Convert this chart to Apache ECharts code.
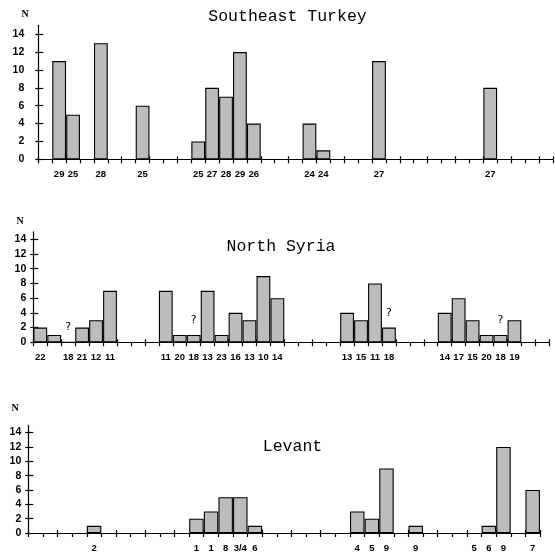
<!DOCTYPE html>
<html><head><meta charset="utf-8">
<script src="https://cdn.jsdelivr.net/npm/echarts@6/dist/echarts.min.js"></script>
<style>html,body{margin:0;padding:0;background:#fff}#c{width:555px;height:553px}</style>
</head><body><div id="c"></div><script>
// y tick labels shared by all panels
const yTicks = [0, 2, 4, 6, 8, 10, 12, 14];

// Panel 1: Southeast Turkey (37 category slots)
const seLabels = ['', '29', '25', '', '28', '', '', '25', '', '', '', '25', '27', '28', '29', '26', '', '', '', '24', '24', '', '', '', '27', '', '', '', '', '', '', '', '27', '', '', '', ''];
const seValues = [null, 11, 5, null, 13, null, null, 6, null, null, null, 2, 8, 7, 12, 4, null, null, null, 4, 1, null, null, null, 11, null, null, null, null, null, null, null, 8, null, null, null, null];

// Panel 2: North Syria (37 category slots)
const nsLabels = ['22', '', '18', '21', '12', '11', '', '', '', '11', '20', '18', '13', '23', '16', '13', '10', '14', '', '', '', '', '13', '15', '11', '18', '', '', '', '14', '17', '15', '20', '18', '19', '', ''];
const nsValues = [2, 1, 0, 2, 3, 7, null, null, null, 7, 1, 1, 7, 1, 4, 3, 9, 6, null, null, null, null, 4, 3, 8, 2, null, null, null, 4, 6, 3, 1, 1, 3, null, null];
const nsQuery = [2, 11, 25, 33];

// Panel 3: Levant (35 category slots)
const lvLabels = ['', '', '', '', '2', '', '', '', '', '', '', '1', '1', '8', '3/4', '6', '', '', '', '', '', '', '4', '5', '9', '', '9', '', '', '', '5', '6', '9', '', '7'];
const lvValues = [null, null, null, null, 1, null, null, null, null, null, null, 2, 3, 5, 5, 1, null, null, null, null, null, null, 3, 2, 9, null, 1, null, null, null, null, 1, 12, null, 6];

const titles = ['Southeast Turkey', 'North Syria', 'Levant'];

const panels = [
  { grid: { left: 38.3, top: 25.3, width: 514.5, height: 134 }, labels: seLabels, values: seValues, query: [], title: [287.5, 17], n: [25, 14] },
  { grid: { left: 33.3, top: 231.9, width: 516, height: 110.4 }, labels: nsLabels, values: nsValues, query: nsQuery, title: [281, 247], n: [20, 221] },
  { grid: { left: 28.3, top: 425.4, width: 511.7, height: 108.9 }, labels: lvLabels, values: lvValues, query: [], title: [292.5, 447], n: [15, 408] }
];

const grid = [], xAxis = [], yAxis = [], series = [], graphic = [];
const lblFont = { color: '#000', fontFamily: 'Liberation Sans', fontWeight: 'bold' };
panels.forEach((p, i) => {
  grid.push(Object.assign({ containLabel: false }, p.grid));
  xAxis.push({
    type: 'category', gridIndex: i, position: 'bottom', data: p.labels, boundaryGap: true,
    axisLine: { show: true, lineStyle: { color: '#000', width: 1.2 } },
    axisTick: { show: true, inside: false, length: 4, lineStyle: { color: '#000', width: 1.2 } },
    axisLabel: Object.assign({ interval: 0, fontSize: 9.5, margin: 10 }, lblFont),
    splitLine: { show: false }
  });
  xAxis.push({
    type: 'category', gridIndex: i, position: 'bottom', data: p.labels, boundaryGap: true,
    axisLine: { show: false },
    axisTick: { show: true, inside: true, length: 3, lineStyle: { color: '#000', width: 1.2 } },
    axisLabel: { show: false }, splitLine: { show: false }
  });
  yAxis.push({
    type: 'value', gridIndex: i, position: 'left', min: 0, max: 15,
    axisLine: { show: true, lineStyle: { color: '#000', width: 1.2 } },
    axisTick: { show: true, inside: false, length: 3, customValues: yTicks, lineStyle: { color: '#000', width: 1.2 } },
    axisLabel: Object.assign({ customValues: yTicks, fontSize: 10.5, margin: i === 0 ? 14 : 7 }, lblFont),
    splitLine: { show: false }
  });
  yAxis.push({
    type: 'value', gridIndex: i, position: 'left', min: 0, max: 15,
    axisLine: { show: false },
    axisTick: { show: true, inside: true, length: 5, customValues: yTicks, lineStyle: { color: '#000', width: 1.2 } },
    axisLabel: { show: false }, splitLine: { show: false }
  });
  const data = p.values.map((v, k) => {
    if (p.query.indexOf(k) >= 0) {
      return { value: v, label: { show: true, position: 'top', distance: 9, formatter: '?', color: '#000', fontSize: 11, fontFamily: 'DejaVu Sans' } };
    }
    return v;
  });
  series.push({
    type: 'bar', xAxisIndex: 2 * i, yAxisIndex: 2 * i, data: data,
    barCategoryGap: '1%', silent: true,
    itemStyle: { color: '#bcbcbc', borderColor: '#000', borderWidth: 1.1 }
  });
  graphic.push({
    type: 'text', x: p.title[0], y: p.title[1],
    style: { text: titles[i], font: '16.5px "Liberation Mono"', fill: '#000', textAlign: 'center', textVerticalAlign: 'middle' }
  });
  graphic.push({
    type: 'text', x: p.n[0], y: p.n[1],
    style: { text: 'N', font: 'bold 10px "Liberation Serif"', fill: '#000', textAlign: 'center', textVerticalAlign: 'middle' }
  });
});

const chart = echarts.init(document.getElementById('c'), null, { renderer: 'canvas' });
chart.setOption({ animation: false, backgroundColor: '#fff', grid, xAxis, yAxis, series, graphic });
</script></body></html>
